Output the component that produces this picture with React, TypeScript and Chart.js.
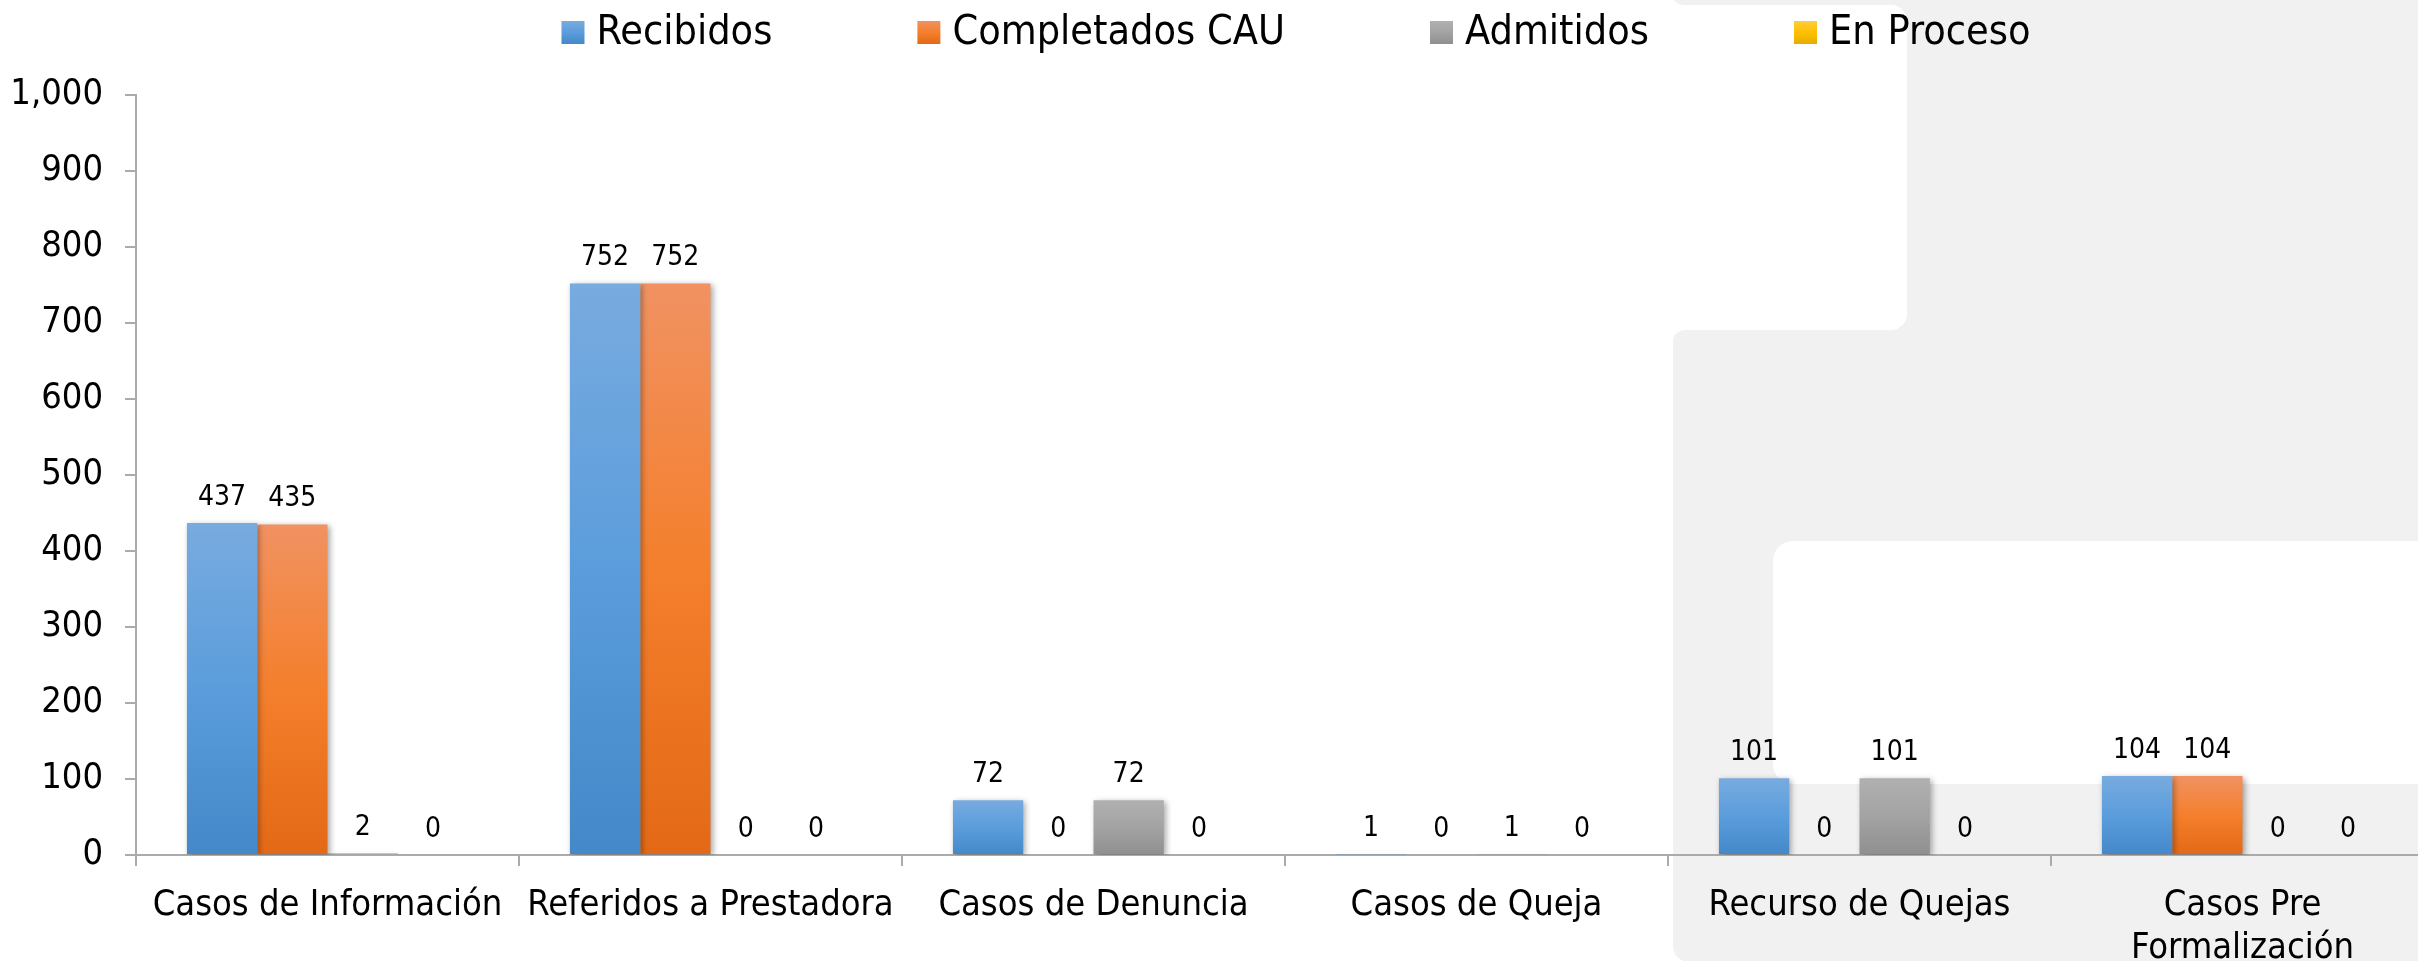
import React, { useEffect, useRef } from 'react';
import { Chart, registerables } from 'chart.js';

Chart.register(...registerables);

const categories: (string | string[])[] = [
  'Casos de Información',
  'Referidos a Prestadora',
  'Casos de Denuncia',
  'Casos de Queja',
  'Recurso de Quejas',
  ['Casos Pre', 'Formalización'],
];
const recibidos = [437, 752, 72, 1, 101, 104];
const completadosCAU = [435, 752, 0, 0, 0, 104];
const admitidos = [2, 0, 72, 1, 101, 0];
const enProceso = [0, 0, 0, 0, 0, 0];
const seriesNames = ['Recibidos', 'Completados CAU', 'Admitidos', 'En Proceso'];
const yMin = 0;
const yMax = 1000;
const yStep = 100;

const FONT = "'DejaVu Sans Condensed', 'DejaVu Sans', sans-serif";
const palettes = [
  ['#78ABDF', '#5B9DDC', '#4488C9'],
  ['#F19262', '#F47F2C', '#E36916'],
  ['#B0B0B0', '#A3A3A3', '#8F8F8F'],
  ['#FFCD3C', '#FFC000', '#E6AC00'],
];

function gradientFill(pal: string[]) {
  return (c: any) => {
    const chart = c.chart;
    if (!chart.chartArea || c.type !== 'data') return pal[1];
    const ys = chart.scales.y;
    const top = ys.getPixelForValue(c.raw as number);
    const base = ys.getPixelForValue(0);
    if (base - top < 2) return pal[2];
    const g = chart.ctx.createLinearGradient(0, top, 0, base);
    g.addColorStop(0, pal[0]);
    g.addColorStop(0.5, pal[1]);
    g.addColorStop(1, pal[2]);
    return g;
  };
}

const bgPlugin = {
  id: 'bgShapes',
  beforeDraw(chart: any) {
    const c = chart.ctx as CanvasRenderingContext2D;
    c.save();
    c.fillStyle = '#F0F1F0';
    c.beginPath();
    (c as any).roundRect(1673, -30, 900, 35, [0, 0, 0, 10]);
    c.fill();
    c.fillRect(1860, -30, 700, 600);
    c.beginPath();
    (c as any).roundRect(1673, 330, 900, 632, [12, 0, 0, 16]);
    c.fill();
    c.fillStyle = '#FFFFFF';
    c.beginPath();
    (c as any).roundRect(-50, 5, 1957, 325, [0, 16, 16, 0]);
    c.fill();
    c.beginPath();
    (c as any).roundRect(1773, 541, 900, 243, [20, 0, 0, 20]);
    c.fill();
    c.restore();
  },
};

const shadowPlugin = {
  id: 'barShadow',
  beforeDatasetsDraw(chart: any) {
    const c = chart.ctx;
    c.save();
    c.shadowColor = 'rgba(0,0,0,0.35)';
    c.shadowBlur = 6;
    c.shadowOffsetX = 2;
    c.shadowOffsetY = 2;
  },
  afterDatasetsDraw(chart: any) {
    chart.ctx.restore();
  },
};

const labelPlugin = {
  id: 'valueLabels',
  afterDatasetsDraw(chart: any) {
    const c = chart.ctx as CanvasRenderingContext2D;
    c.save();
    c.font = `28px ${FONT}`;
    c.fillStyle = '#000';
    c.textAlign = 'center';
    c.textBaseline = 'alphabetic';
    chart.data.datasets.forEach((ds: any, i: number) => {
      const meta = chart.getDatasetMeta(i);
      meta.data.forEach((el: any, j: number) => {
        c.fillText(String(ds.data[j]), el.x, el.y - 18);
      });
    });
    c.restore();
  },
};

const legendPlugin = {
  id: 'customLegend',
  afterDraw(chart: any) {
    const c = chart.ctx as CanvasRenderingContext2D;
    c.save();
    c.font = `41px ${FONT}`;
    const sq = 23;
    const gapText = 12;
    const gapItem = 145;
    const widths = seriesNames.map((n) => c.measureText(n).width);
    const total =
      widths.reduce((a, w) => a + sq + gapText + w, 0) + gapItem * (seriesNames.length - 1);
    let x = 1296 - total / 2;
    const sqTop = 21;
    seriesNames.forEach((n, i) => {
      const pal = palettes[i];
      const g = c.createLinearGradient(0, sqTop, 0, sqTop + sq);
      g.addColorStop(0, pal[0]);
      g.addColorStop(0.5, pal[1]);
      g.addColorStop(1, pal[2]);
      c.fillStyle = g;
      c.fillRect(x, sqTop, sq, sq);
      c.fillStyle = '#000';
      c.textBaseline = 'alphabetic';
      c.textAlign = 'left';
      c.fillText(n, x + sq + gapText, 44);
      x += sq + gapText + widths[i] + gapItem;
    });
    c.restore();
  },
};

export default function App() {
  const ref = useRef<HTMLCanvasElement | null>(null);
  useEffect(() => {
    if (!ref.current) return;
    const seriesData = [recibidos, completadosCAU, admitidos, enProceso];
    const chart = new Chart(ref.current, {
      type: 'bar',
      data: {
        labels: categories as any,
        datasets: seriesData.map((d, i) => ({
          label: seriesNames[i],
          data: d,
          backgroundColor: gradientFill(palettes[i]) as any,
          borderWidth: 0,
          categoryPercentage: 0.734,
          barPercentage: 1,
        })),
      },
      options: {
        responsive: true,
        maintainAspectRatio: false,
        animation: false,
        layout: { padding: { top: 95, left: 0, right: 0, bottom: 0 } },
        plugins: {
          legend: { display: false },
          tooltip: { enabled: false },
        },
        scales: {
          x: {
            afterFit: (s: any) => {
              s.height = 106;
            },
            grid: {
              display: true,
              drawOnChartArea: false,
              drawTicks: true,
              tickLength: 11,
              color: '#ABABAB',
              lineWidth: 2,
            },
            border: { display: true, color: '#ABABAB', width: 2 },
            ticks: {
              color: '#000',
              font: { family: FONT, size: 36, lineHeight: 1.17 },
              padding: 19,
              maxRotation: 0,
              minRotation: 0,
              autoSkip: false,
            },
          },
          y: {
            min: yMin,
            max: yMax,
            afterFit: (s: any) => {
              s.width = 136;
            },
            grid: {
              display: true,
              drawOnChartArea: false,
              drawTicks: true,
              tickLength: 11,
              color: '#ABABAB',
              lineWidth: 2,
            },
            border: { display: true, color: '#ABABAB', width: 2 },
            ticks: {
              stepSize: yStep,
              color: '#000',
              font: { family: FONT, size: 36 },
              padding: 22,
            },
          },
        },
      },
      plugins: [bgPlugin, shadowPlugin, labelPlugin, legendPlugin],
    });
    return () => chart.destroy();
  }, []);
  return (
    <div
      style={{
        position: 'fixed',
        left: 0,
        top: 0,
        width: 2418,
        height: 961,
        overflow: 'hidden',
        background: '#fff',
      }}
    >
      <div style={{ position: 'relative', width: 2434, height: 961 }}>
        <canvas ref={ref} />
      </div>
    </div>
  );
}
